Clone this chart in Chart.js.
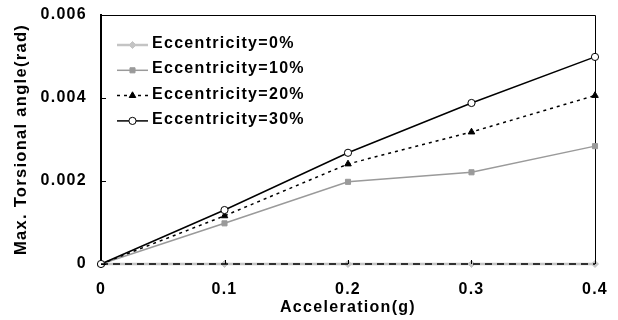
<!DOCTYPE html>
<html>
<head>
<meta charset="utf-8">
<script src="https://cdn.jsdelivr.net/npm/chart.js@4/dist/chart.umd.min.js"></script>
<style>
  html, body { margin: 0; padding: 0; background: #fff; }
  #wrap { width: 618px; height: 320px; }
</style>
</head>
<body>
<div id="wrap"><canvas id="torsionChart" width="618" height="320"></canvas></div>
<script>
// data
const accel = [0, 0.1, 0.2, 0.3, 0.4];
const ecc0 = [0, 0, 0, 0, 0];
const ecc10 = [0, 0.00098, 0.00198, 0.00221, 0.00284];
const ecc20 = [0, 0.00116, 0.00241, 0.00318, 0.00406];
const ecc30 = [0, 0.0013, 0.00268, 0.00388, 0.00499];
const seriesNames = ['Eccentricity=0%', 'Eccentricity=10%', 'Eccentricity=20%', 'Eccentricity=30%'];

const xTicks = [0, 0.1, 0.2, 0.3, 0.4];
const xTickLabels = ['0', '0.1', '0.2', '0.3', '0.4'];
const yTicks = [0, 0.002, 0.004, 0.006];
const yTickLabels = ['0', '0.002', '0.004', '0.006'];

const FONT = { family: "'Liberation Sans', Arial, sans-serif", size: 16, weight: 'bold' };
const SPACING = '1.3px';

Chart.defaults.color = '#000';

const toPoints = arr => arr.map((v, i) => ({ x: accel[i], y: v }));

// wide letter spacing like the original korean gothic font
const spacing = {
    id: 'spacing',
    beforeUpdate(chart) { chart.ctx.letterSpacing = SPACING; },
    beforeDraw(chart) { chart.ctx.letterSpacing = SPACING; }
};

// top + right frame lines
const frame = {
    id: 'frame',
    beforeDatasetsDraw(chart) {
        const { ctx, chartArea: a } = chart;
        ctx.save();
        ctx.strokeStyle = '#000';
        ctx.lineWidth = 1;
        ctx.beginPath();
        ctx.moveTo(a.left, a.top + 0.5);
        ctx.lineTo(a.right + 0.5, a.top + 0.5);
        ctx.lineTo(a.right + 0.5, a.bottom);
        ctx.stroke();
        ctx.restore();
    }
};

// dashed x axis on top of the 0% line, plus tick marks pointing into the plot
const innerTicks = {
    id: 'innerTicks',
    afterDatasetsDraw(chart) {
        const { ctx, chartArea: a, scales } = chart;
        ctx.save();
        ctx.strokeStyle = '#000';
        ctx.lineWidth = 1.5;
        ctx.setLineDash([7, 5]);
        ctx.beginPath();
        ctx.moveTo(a.left, a.bottom);
        ctx.lineTo(a.right, a.bottom);
        ctx.stroke();
        ctx.setLineDash([]);
        ctx.lineWidth = 1;
        ctx.beginPath();
        yTicks.forEach(v => {
            const y = Math.round(scales.y.getPixelForValue(v)) + 0.5;
            ctx.moveTo(a.left, y);
            ctx.lineTo(a.left + 5, y);
        });
        xTicks.slice(1).forEach(v => {
            const x = Math.round(scales.x.getPixelForValue(v)) + 0.5;
            ctx.moveTo(x, a.bottom);
            ctx.lineTo(x, a.bottom - 4);
        });
        ctx.stroke();
        ctx.restore();
    }
};

// legend with line + marker samples, inside the plot
const lineLegend = {
    id: 'lineLegend',
    afterDraw(chart) {
        const { ctx, chartArea: a } = chart;
        ctx.save();
        chart.data.datasets.forEach((ds, i) => {
            const ty = a.top + 28.5 + i * 25.3;
            const y = ty + 1.5;
            const x0 = a.left + 16, x1 = a.left + 47;
            ctx.strokeStyle = ds.borderColor;
            ctx.lineWidth = ds.borderWidth;
            ctx.setLineDash(ds.borderDash || []);
            ctx.beginPath();
            ctx.moveTo(x0, y);
            ctx.lineTo(x1, y);
            ctx.stroke();
            ctx.setLineDash([]);
            ctx.fillStyle = ds.pointBackgroundColor;
            ctx.strokeStyle = ds.pointBorderColor;
            ctx.lineWidth = ds.pointBorderWidth;
            Chart.helpers.drawPoint(ctx, {
                pointStyle: ds.pointStyle,
                radius: ds.pointRadius,
                borderWidth: ds.pointBorderWidth,
                rotation: 0
            }, (x0 + x1) / 2, y);
            ctx.fillStyle = '#000';
            ctx.font = Chart.helpers.toFont(FONT).string;
            ctx.textAlign = 'left';
            ctx.textBaseline = 'middle';
            ctx.fillText(ds.label, a.left + 51, ty);
        });
        ctx.restore();
    }
};

const ctx = document.getElementById('torsionChart').getContext('2d');

const torsionChart = new Chart(ctx, {
    type: 'line',
    data: {
        datasets: [
            {
                label: seriesNames[0],
                data: toPoints(ecc0),
                borderColor: '#c4c4c4',
                borderWidth: 2.5,
                pointStyle: 'rectRot',
                pointRadius: 3.5,
                pointBackgroundColor: '#c4c4c4',
                pointBorderColor: '#c4c4c4',
                pointBorderWidth: 1,
                order: 4
            },
            {
                label: seriesNames[1],
                data: toPoints(ecc10),
                borderColor: '#9a9a9a',
                borderWidth: 1.5,
                pointStyle: 'rect',
                pointRadius: 3.6,
                pointBackgroundColor: '#9a9a9a',
                pointBorderColor: '#9a9a9a',
                pointBorderWidth: 1,
                order: 3
            },
            {
                label: seriesNames[2],
                data: toPoints(ecc20),
                borderColor: '#000',
                borderWidth: 1.5,
                borderDash: [3, 4],
                pointStyle: 'triangle',
                pointRadius: 3.8,
                pointBackgroundColor: '#000',
                pointBorderColor: '#000',
                pointBorderWidth: 1,
                order: 2
            },
            {
                label: seriesNames[3],
                data: toPoints(ecc30),
                borderColor: '#000',
                borderWidth: 1.5,
                pointStyle: 'circle',
                pointRadius: 3.6,
                pointBackgroundColor: '#fff',
                pointBorderColor: '#000',
                pointBorderWidth: 1,
                order: 1
            }
        ]
    },
    options: {
        responsive: false,
        animation: false,
        clip: false,
        layout: { padding: { left: 0, right: 23, top: 15, bottom: 0 } },
        elements: { line: { tension: 0 } },
        scales: {
            x: {
                type: 'linear',
                min: 0,
                max: 0.4,
                afterBuildTicks: s => { s.ticks = xTicks.map(v => ({ value: v })); },
                afterFit: s => { s.height = 56; s.paddingLeft = 0; s.paddingRight = 0; },
                ticks: {
                    font: FONT,
                    padding: 16,
                    maxRotation: 0,
                    autoSkip: false,
                    callback: (v, i) => xTickLabels[i]
                },
                grid: { display: false, drawTicks: false },
                border: { display: false },
                title: {
                    display: true,
                    text: 'Acceleration(g)',
                    font: FONT,
                    padding: { top: 0, bottom: 3 }
                }
            },
            y: {
                min: 0,
                max: 0.006,
                afterBuildTicks: s => { s.ticks = yTicks.map(v => ({ value: v })); },
                afterFit: s => { s.width = 101; s.paddingTop = 0; s.paddingBottom = 0; },
                ticks: {
                    font: FONT,
                    padding: 14,
                    callback: (v, i) => yTickLabels[i]
                },
                grid: { display: false, drawTicks: false },
                border: { display: true, color: '#000', width: 2 },
                title: {
                    display: true,
                    text: 'Max. Torsional angle(rad)',
                    font: { ...FONT, size: 16.5 },
                    padding: { top: 11.5, bottom: 0 }
                }
            }
        },
        plugins: {
            legend: { display: false },
            tooltip: { enabled: false }
        }
    },
    plugins: [spacing, frame, innerTicks, lineLegend]
});
</script>
</body>
</html>
